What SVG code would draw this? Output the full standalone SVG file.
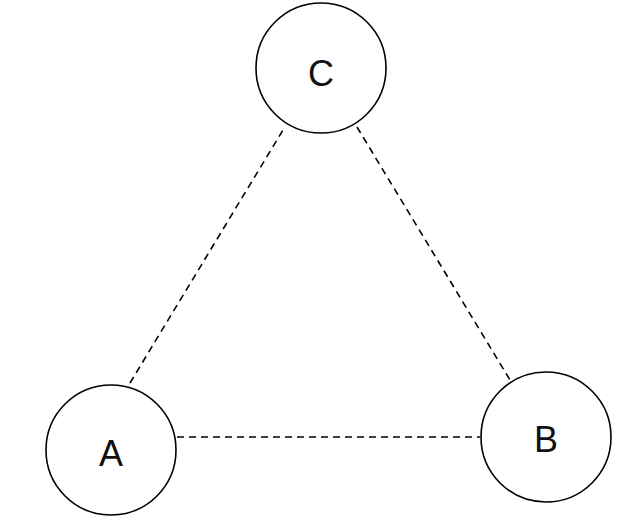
<svg xmlns="http://www.w3.org/2000/svg" width="624" height="524" viewBox="0 0 624 524">
<style>
.n{fill:#fff;stroke:#000;stroke-width:1.6}
.t{font-family:"Liberation Sans",Arial,sans-serif;font-size:36px;text-anchor:middle;fill:#111}
.e{stroke:#000;stroke-width:1.6;stroke-dasharray:7,5;fill:none}
</style>
<rect width="624" height="524" fill="#fff"/>
<g id="edges">
<line class="e" x1="130" y1="383" x2="283" y2="130"/>
<line class="e" x1="357" y1="127" x2="510" y2="380"/>
<line class="e" x1="177" y1="437" x2="480" y2="437"/>
</g>
<g id="C"><circle class="n" cx="321" cy="68" r="65"/><text class="t" x="321" y="86">C</text></g>
<g id="A"><circle class="n" cx="111" cy="450" r="65"/><text class="t" x="111" y="466">A</text></g>
<g id="B"><circle class="n" cx="546" cy="437" r="65"/><text class="t" x="546" y="452">B</text></g>
</svg>
